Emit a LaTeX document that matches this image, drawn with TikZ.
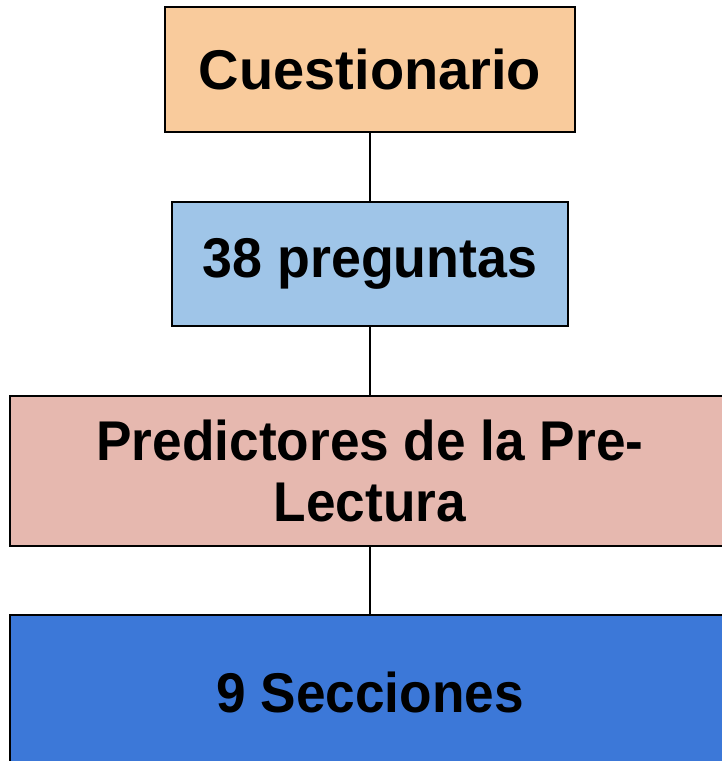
\documentclass[tikz,border=0pt]{standalone}
\usepackage{fontspec}
\setmainfont{Liberation Sans}
\definecolor{peach}{HTML}{F9CB9C}
\definecolor{lblue}{HTML}{9FC5E8}
\definecolor{rose}{HTML}{E6B8AF}
\definecolor{dblue}{HTML}{3C78D8}
\tikzset{
  caja/.style={draw=black, line width=1.3pt, rectangle, align=center,
    font=\fontsize{56}{61}\selectfont\bfseries, inner sep=0pt},
}
\begin{document}
\begin{tikzpicture}[x=1pt,y=-1pt]
      \useasboundingbox (0,0) rectangle (722,761);
      \clip (0,0) rectangle (722,761);
      \fill[white] (0,0) rectangle (722,761);
      \draw
        (370,69.5) node[caja, fill=peach, minimum width=410, minimum height=125] (cues){Cuestionario}
        (370,264) node[caja, fill=lblue, minimum width=396, minimum height=124] (preg){\scalebox{0.96}[1]{38 preguntas}}
        (370,471) node[caja, fill=rose, minimum width=720, minimum height=150] (pred){\scalebox{0.95}[1]{Predictores de la Pre-}\\\scalebox{0.95}[1]{Lectura}}
        (370,692) node[caja, fill=dblue, minimum width=720, minimum height=154] (secc){\scalebox{0.95}[1]{9 Secciones}};
      \begin{scope}[-, line width=1.3pt]
        \draw (cues) to (preg);
        \draw (preg) to (pred);
        \draw (pred) to (secc);
      \end{scope}
    \end{tikzpicture}
\end{document}
